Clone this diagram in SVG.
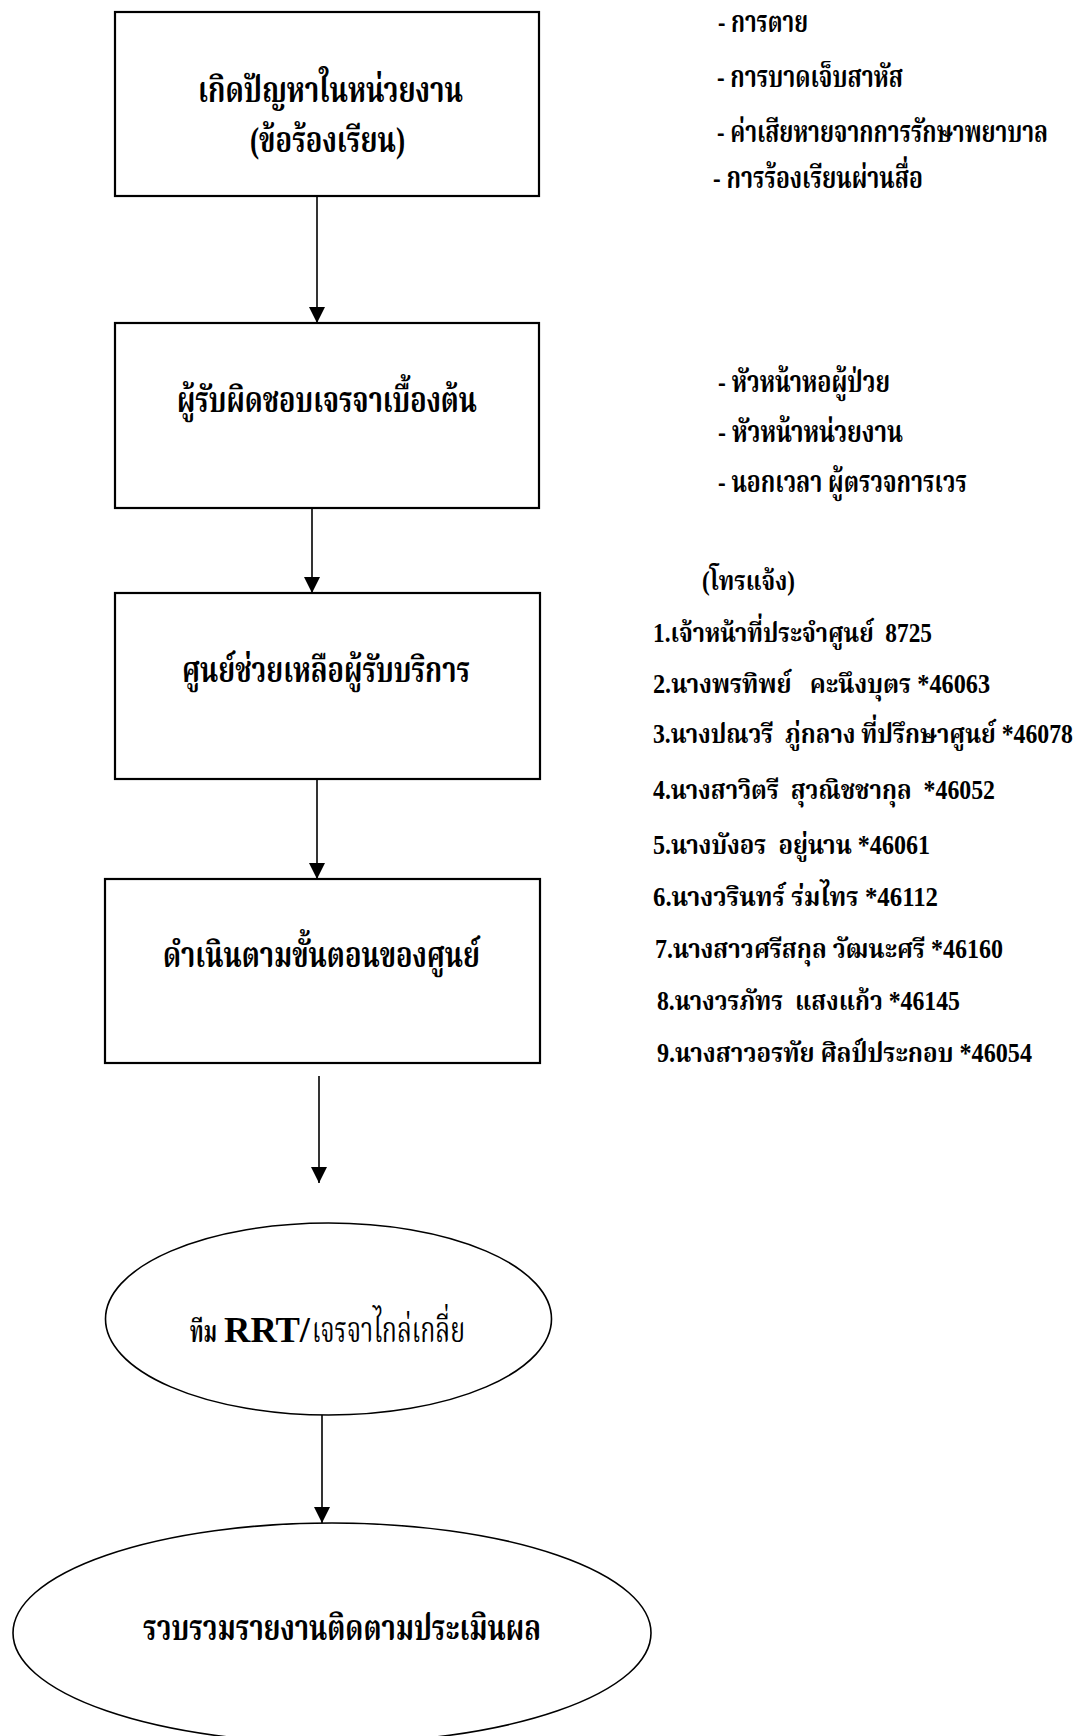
<svg xmlns="http://www.w3.org/2000/svg" width="1079" height="1736" viewBox="0 0 1079 1736">
<style>
.box{fill:#fff;stroke:#000;stroke-width:2.2}
.ell{fill:#fff;stroke:#000;stroke-width:1.6}
.con{fill:none;stroke:#000;stroke-width:1.6}
.t{font-family:'Liberation Serif','Noto Serif Thai','Noto Sans Thai','Noto Sans',serif;font-weight:bold;fill:#000;white-space:pre}
.big{font-size:36px}
.lst{font-size:30px}
.num{font-size:27px}
</style>
<defs>
<marker id="ah" viewBox="0 0 16 16" refX="16" refY="8" markerWidth="16" markerHeight="16" markerUnits="userSpaceOnUse" orient="auto">
<path d="M0,0 L16,8 L0,16 z" fill="#000"/>
</marker>
</defs>
<rect width="1079" height="1736" fill="#fff"/>

<g id="connectors">
<line class="con" x1="317" y1="196" x2="317" y2="323" marker-end="url(#ah)"/>
<line class="con" x1="312" y1="508" x2="312" y2="593" marker-end="url(#ah)"/>
<line class="con" x1="317" y1="779" x2="317" y2="879" marker-end="url(#ah)"/>
<line class="con" x1="319" y1="1076" x2="319" y2="1183" marker-end="url(#ah)"/>
<line class="con" x1="322" y1="1415" x2="322" y2="1523" marker-end="url(#ah)"/>
</g>

<g id="n1">
<rect class="box" x="115" y="12" width="424" height="184"/>
<text class="t big" x="198" y="102" textLength="265" lengthAdjust="spacingAndGlyphs">เกิดปัญหาในหน่วยงาน</text>
<text class="t big" x="250" y="152" textLength="155" lengthAdjust="spacingAndGlyphs">(ข้อร้องเรียน)</text>
</g>

<g id="n1-notes">
<text class="t lst" x="718" y="32" textLength="90" lengthAdjust="spacingAndGlyphs">- การตาย</text>
<text class="t lst" x="717" y="87" textLength="186" lengthAdjust="spacingAndGlyphs">- การบาดเจ็บสาหัส</text>
<text class="t lst" x="717" y="142" textLength="331" lengthAdjust="spacingAndGlyphs">- ค่าเสียหายจากการรักษาพยาบาล</text>
<text class="t lst" x="713" y="188" textLength="210" lengthAdjust="spacingAndGlyphs">- การร้องเรียนผ่านสื่อ</text>
</g>

<g id="n2">
<rect class="box" x="115" y="323" width="424" height="185"/>
<text class="t big" x="177" y="412" textLength="300" lengthAdjust="spacingAndGlyphs">ผู้รับผิดชอบเจรจาเบื้องต้น</text>
</g>

<g id="n2-notes">
<text class="t lst" x="718" y="392" textLength="172" lengthAdjust="spacingAndGlyphs">- หัวหน้าหอผู้ป่วย</text>
<text class="t lst" x="718" y="442" textLength="185" lengthAdjust="spacingAndGlyphs">- หัวหน้าหน่วยงาน</text>
<text class="t lst" x="718" y="492" textLength="249" lengthAdjust="spacingAndGlyphs">- นอกเวลา ผู้ตรวจการเวร</text>
</g>

<g id="n3">
<rect class="box" x="115" y="593" width="425" height="186"/>
<text class="t big" x="182" y="682" textLength="288" lengthAdjust="spacingAndGlyphs">ศูนย์ช่วยเหลือผู้รับบริการ</text>
</g>

<g id="n3-notes">
<text class="t num" x="702" y="590" textLength="93" lengthAdjust="spacingAndGlyphs">(โทรแจ้ง)</text>
<text class="t num" x="653" y="642" textLength="279" lengthAdjust="spacingAndGlyphs">1.เจ้าหน้าที่ประจำศูนย์  8725</text>
<text class="t num" x="653" y="693" textLength="337" lengthAdjust="spacingAndGlyphs">2.นางพรทิพย์   คะนึงบุตร *46063</text>
<text class="t num" x="653" y="743" textLength="420" lengthAdjust="spacingAndGlyphs">3.นางปณวรี  ภู่กลาง ที่ปรึกษาศูนย์ *46078</text>
<text class="t num" x="653" y="799" textLength="342" lengthAdjust="spacingAndGlyphs">4.นางสาวิตรี  สุวณิชชากุล  *46052</text>
<text class="t num" x="653" y="854" textLength="277" lengthAdjust="spacingAndGlyphs">5.นางบังอร  อยู่นาน *46061</text>
<text class="t num" x="653" y="906" textLength="285" lengthAdjust="spacingAndGlyphs">6.นางวรินทร์ ร่มไทร *46112</text>
<text class="t num" x="655" y="958" textLength="348" lengthAdjust="spacingAndGlyphs">7.นางสาวศรีสกุล วัฒนะศรี *46160</text>
<text class="t num" x="657" y="1010" textLength="303" lengthAdjust="spacingAndGlyphs">8.นางวรภัทร  แสงแก้ว *46145</text>
<text class="t num" x="657" y="1062" textLength="375" lengthAdjust="spacingAndGlyphs">9.นางสาวอรทัย ศิลป์ประกอบ *46054</text>
</g>

<g id="n4">
<rect class="box" x="105" y="879" width="435" height="184"/>
<text class="t big" x="163" y="967" textLength="317" lengthAdjust="spacingAndGlyphs">ดำเนินตามขั้นตอนของศูนย์</text>
</g>

<g id="n5">
<ellipse class="ell" cx="328.5" cy="1319" rx="223" ry="96"/>
<text class="t" x="190" y="1342" font-size="30" textLength="27" lengthAdjust="spacingAndGlyphs">ทีม</text>
<text class="t" x="224" y="1342" font-size="36" textLength="86" lengthAdjust="spacingAndGlyphs">RRT/</text>
<text class="t big" x="312" y="1342" style="font-weight:normal" textLength="153" lengthAdjust="spacingAndGlyphs">เจรจาไกล่เกลี่ย</text>
</g>

<g id="n6">
<ellipse class="ell" cx="332" cy="1633" rx="319" ry="110"/>
<text class="t big" x="143" y="1640" textLength="398" lengthAdjust="spacingAndGlyphs">รวบรวมรายงานติดตามประเมินผล</text>
</g>
</svg>
